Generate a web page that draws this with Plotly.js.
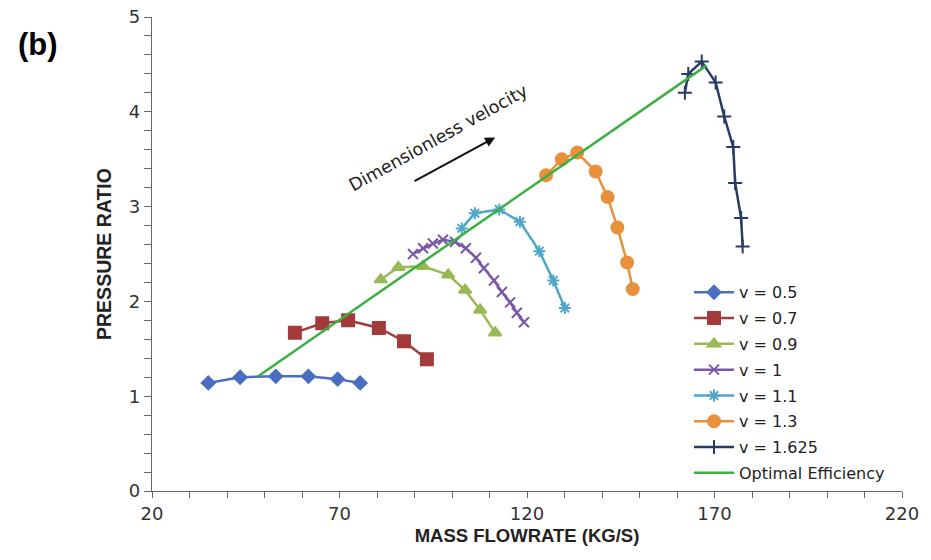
<!DOCTYPE html>
<html>
<head>
<meta charset="utf-8">
<script src="https://cdn.plot.ly/plotly-3.0.1.min.js"></script>
<style>html,body{margin:0;padding:0;background:#fff;}#chart{width:931px;height:560px;}</style>
</head>
<body>
<div id="chart"></div>
<script>
// Data
const v05_x = [35.0, 43.5, 53.0, 61.7, 69.5, 75.5];
const v05_y = [1.14, 1.20, 1.21, 1.21, 1.18, 1.14];
const v07_x = [58.1, 65.4, 72.3, 80.5, 87.2, 93.3];
const v07_y = [1.67, 1.77, 1.80, 1.72, 1.58, 1.39];
const v09_x = [81.0, 85.7, 92.3, 99.0, 103.5, 107.5, 111.5];
const v09_y = [2.23, 2.36, 2.37, 2.28, 2.12, 1.91, 1.67];
const v10_x = [89.6, 92.3, 94.9, 97.6, 100.8, 103.7, 106.4, 108.5, 111.2, 113.3, 115.5, 117.3, 119.2];
const v10_y = [2.50, 2.56, 2.61, 2.65, 2.63, 2.56, 2.46, 2.35, 2.22, 2.10, 1.99, 1.88, 1.78];
const v11_x = [102.6, 106.1, 112.6, 118.1, 123.3, 127.0, 130.1];
const v11_y = [2.77, 2.93, 2.97, 2.84, 2.53, 2.22, 1.93];
const v13_x = [125.1, 129.3, 133.4, 138.3, 141.5, 144.1, 146.7, 148.2];
const v13_y = [3.33, 3.50, 3.57, 3.37, 3.10, 2.78, 2.41, 2.13];
const v1625_x = [162.1, 163.0, 166.6, 170.3, 172.6, 175.0, 175.5, 177.1, 177.5];
const v1625_y = [4.20, 4.40, 4.53, 4.31, 3.95, 3.63, 3.25, 2.88, 2.58];
const opt_x = [48.3, 167.9];
const opt_y = [1.21, 4.49];
const seriesNames = ["v = 0.5", "v = 0.7", "v = 0.9", "v = 1", "v = 1.1", "v = 1.3", "v = 1.625", "Optimal Efficiency"];

const colors = ["#4a6fc1", "#a33b3b", "#98b954", "#7a58a6", "#4fa6c9", "#e8913a", "#283a66", "#3cb043"];
const symbols = ["diamond", "square", "triangle-up", "x-thin-open", "asterisk-open", "circle", "cross-thin-open"];
const sizes = [10, 12, 11, 10, 10, 12, 10];
const xs = [v05_x, v07_x, v09_x, v10_x, v11_x, v13_x, v1625_x];
const ys = [v05_y, v07_y, v09_y, v10_y, v11_y, v13_y, v1625_y];

const traces = xs.map((x, i) => ({
  type: "scatter", mode: "lines+markers", x: x, y: ys[i], name: seriesNames[i],
  legendgroup: "g" + i,
  line: {color: colors[i], width: 2.5},
  marker: {symbol: symbols[i], size: sizes[i], color: colors[i], line: {color: colors[i], width: 2}}
}));
traces.push({
  type: "scatter", mode: "lines", x: opt_x, y: opt_y, name: seriesNames[7], legendgroup: "g7",
  line: {color: colors[7], width: 2.5}
});

const axisFont = {family: "DejaVu Sans", size: 18, color: "#333"};
const layout = {
  width: 931, height: 560,
  margin: {l: 152, r: 29, t: 17, b: 69},
  paper_bgcolor: "#fff", plot_bgcolor: "#fff",
  showlegend: true,
  legend: {x: 0.716, y: 0.455, xanchor: "left", yanchor: "top", font: {family: "DejaVu Sans", size: 16, color: "#222"},
           tracegroupgap: 2, itemwidth: 40, bgcolor: "rgba(0,0,0,0)"},
  xaxis: {range: [20, 220], dtick: 50, tick0: 20, showgrid: false, zeroline: false,
          showline: true, linecolor: "#666", linewidth: 1.2,
          ticks: "outside", ticklen: 6, tickcolor: "#666",
          minor: {dtick: 10, tick0: 20, ticks: "outside", ticklen: 6, tickcolor: "#666", showgrid: false},
          tickfont: axisFont,
          title: {text: "<b>MASS FLOWRATE (KG/S)</b>", font: {family: "Liberation Sans Narrow, Liberation Sans", size: 18.5, color: "#222"}, standoff: 6}},
  yaxis: {range: [0, 5], dtick: 1, showgrid: false, zeroline: false,
          showline: true, linecolor: "#666", linewidth: 1.2,
          ticks: "outside", ticklen: 7, tickcolor: "#666",
          minor: {dtick: 0.2, ticks: "outside", ticklen: 7, tickcolor: "#666", showgrid: false},
          tickfont: axisFont,
          title: {text: "<b>PRESSURE RATIO</b>", font: {family: "Liberation Sans Narrow, Liberation Sans", size: 19.5, color: "#222"}, standoff: 12}},
  annotations: [
    {xref: "paper", yref: "paper", x: -0.152, y: 0.941, xanchor: "center", yanchor: "middle", text: "<b>(b)</b>", showarrow: false,
     font: {family: "Liberation Sans", size: 31, color: "#000"}},
    {xref: "x", yref: "y", x: 96.3, y: 3.72, text: "Dimensionless velocity", showarrow: false, textangle: -29,
     font: {family: "DejaVu Sans", size: 17.5, color: "#222"}},
    {xref: "x", yref: "y", axref: "x", ayref: "y", x: 111.5, y: 3.73, ax: 89.6, ay: 3.26, text: "",
     showarrow: true, arrowhead: 2, arrowsize: 1, arrowwidth: 2, arrowcolor: "#111"}
  ]
};
Plotly.newPlot("chart", traces, layout, {displayModeBar: false, staticPlot: true});
</script>
</body>
</html>
